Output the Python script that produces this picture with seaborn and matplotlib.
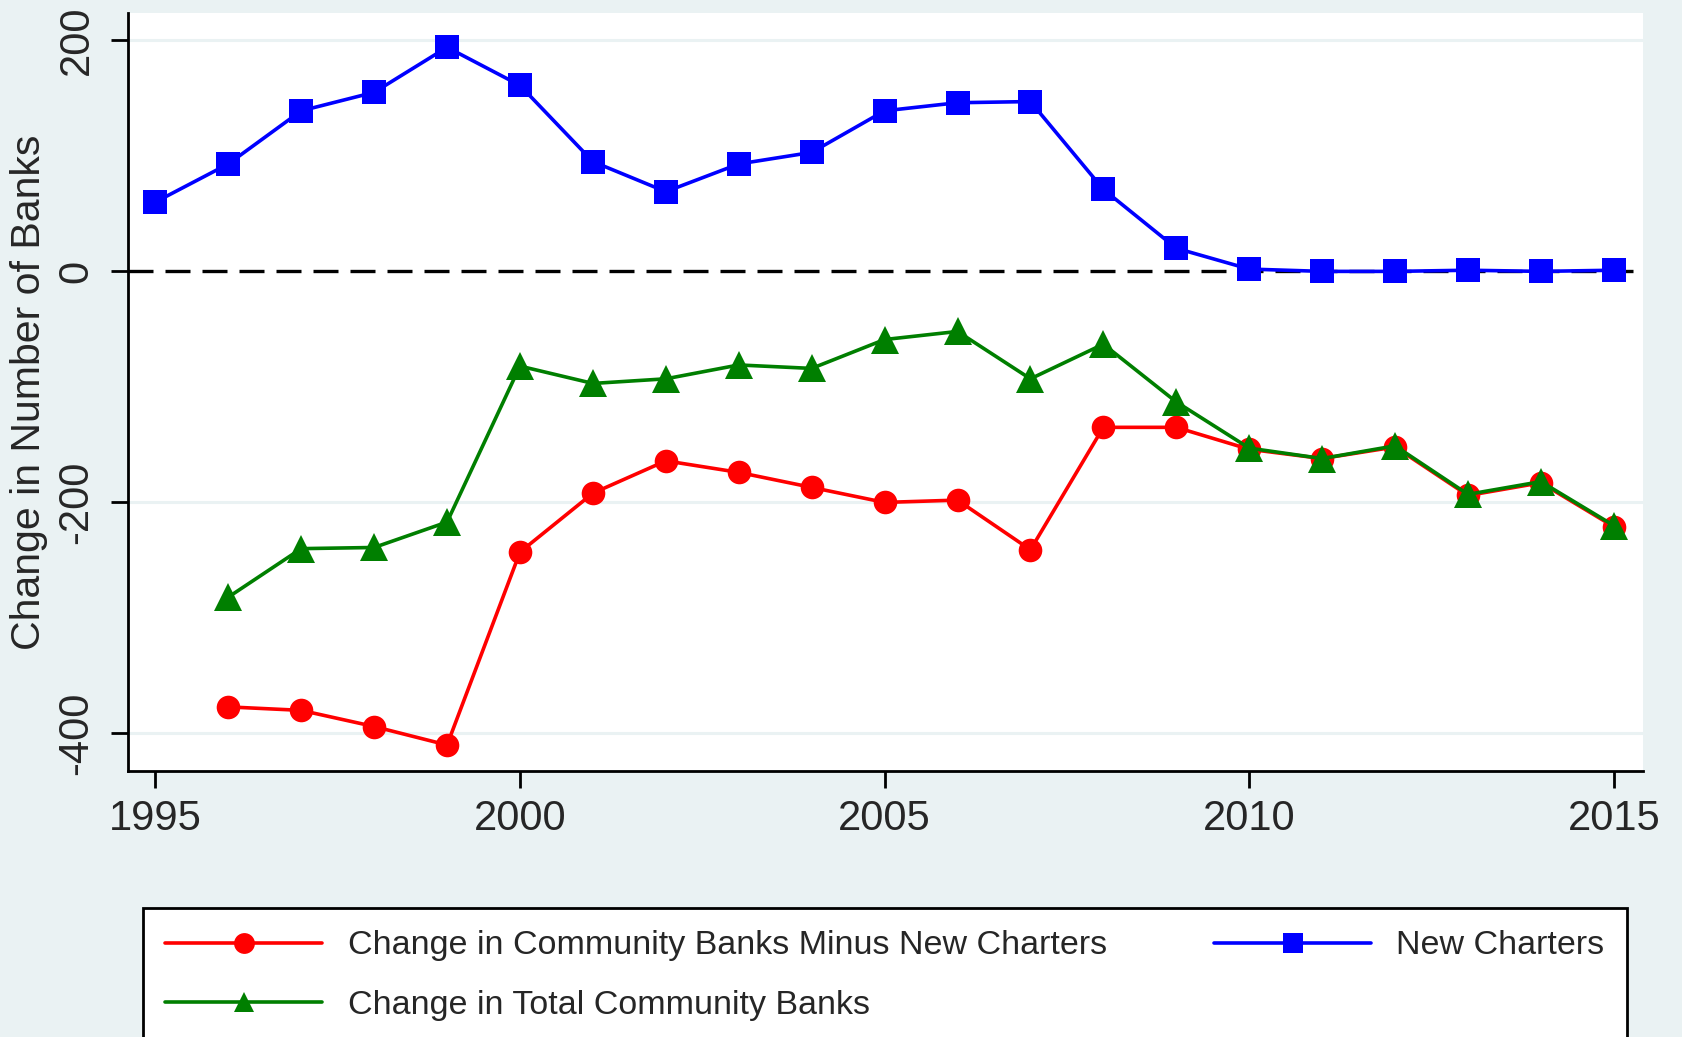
import matplotlib
matplotlib.use("Agg")
import matplotlib.pyplot as plt
import seaborn as sns
import pandas as pd
import numpy as np

years = list(range(1995, 2016))
new_charters = [60, 93, 139, 155, 194, 161, 95, 69, 93, 103, 139, 146, 147, 71, 20, 2, 0, 0, 1, 0, 1]
total_years = list(range(1996, 2016))
total_change = [-282, -240, -239, -217, -82, -97, -93, -81, -84, -59, -52, -93, -63, -113, -153, -162, -151, -193, -182, -220]
minus_new = [-377, -380, -394, -410, -243, -192, -164, -174, -187, -200, -198, -241, -135, -135, -154, -162, -152, -194, -183, -221]

xticks = [1995, 2000, 2005, 2010, 2015]
yticks = [-400, -200, 0, 200]
lab_red = "Change in Community Banks Minus New Charters"
lab_green = "Change in Total Community Banks"
lab_blue = "New Charters"
ylabel = "Change in Number of Banks"

BG = "#EAF2F3"
sns.set_theme(style="white")
plt.rcParams['font.family'] = ['Liberation Sans', 'DejaVu Sans']
plt.rcParams['axes.unicode_minus'] = False

fig = plt.figure(figsize=(16.82, 10.37), dpi=100, facecolor=BG)
ax = fig.add_axes([0.0759, 0.2565, 0.9768 - 0.0759, 0.9875 - 0.2565])
ax.set_facecolor("white")

df_red = pd.DataFrame({"year": total_years, "val": minus_new})
df_green = pd.DataFrame({"year": total_years, "val": total_change})
df_blue = pd.DataFrame({"year": years, "val": new_charters})

for yt in [-400, -200, 200]:
    ax.axhline(yt, color=BG, lw=2.2, zorder=0)
ax.axhline(0, color="black", lw=2.4, ls=(0, (7.5, 3.6)), zorder=1)

LW = 2.6
sns.lineplot(data=df_red, x="year", y="val", ax=ax, color="#FF0000", lw=LW,
             marker="o", markersize=17, markeredgewidth=0, label=lab_red, zorder=3)
sns.lineplot(data=df_blue, x="year", y="val", ax=ax, color="#0000FF", lw=LW,
             marker="s", markersize=17, markeredgewidth=0, label=lab_blue, zorder=3)
sns.lineplot(data=df_green, x="year", y="val", ax=ax, color="#007F00", lw=LW,
             marker="^", markersize=20, markeredgewidth=0, label=lab_green, zorder=4)

ax.set_xlim(1994.62, 2015.4)
ax.set_ylim(-432.5, 223.7)
ax.set_xticks(xticks)
ax.set_yticks(yticks)
ax.set_xticklabels([str(v) for v in xticks], fontsize=30)
ax.set_yticklabels([str(v) for v in yticks], fontsize=30, rotation=90, va="center")
ax.tick_params(axis="both", direction="out", length=12, width=2, color="black",
               bottom=True, left=True)
ax.tick_params(axis="x", pad=8)
ax.tick_params(axis="y", pad=10.5)
ax.set_xlabel("")
ax.set_ylabel(ylabel, fontsize=29.5, labelpad=6)
for s in ["top", "right"]:
    ax.spines[s].set_visible(False)
for s in ["left", "bottom"]:
    ax.spines[s].set_color("black")
    ax.spines[s].set_linewidth(2)

handles, labels = ax.get_legend_handles_labels()
ax.get_legend().remove()
order = [labels.index(lab_red), labels.index(lab_green), labels.index(lab_blue)]
leg = fig.legend([handles[i] for i in order], [labels[i] for i in order],
                 loc="upper left", bbox_to_anchor=(143/1682, 1 - 909/1037, (1627-143)/1682, 0.001),
                 mode="expand", ncol=2, fontsize=24.5, frameon=True, fancybox=False,
                 edgecolor="black", facecolor="white", framealpha=1,
                 handlelength=4.6, borderpad=0.66, labelspacing=0.83, handletextpad=0.75,
                 columnspacing=3, borderaxespad=0)
leg.get_frame().set_linewidth(2)
for h in leg.legend_handles:
    h.set_markersize(15)

fig.savefig("out.png", dpi=100, facecolor=BG)
